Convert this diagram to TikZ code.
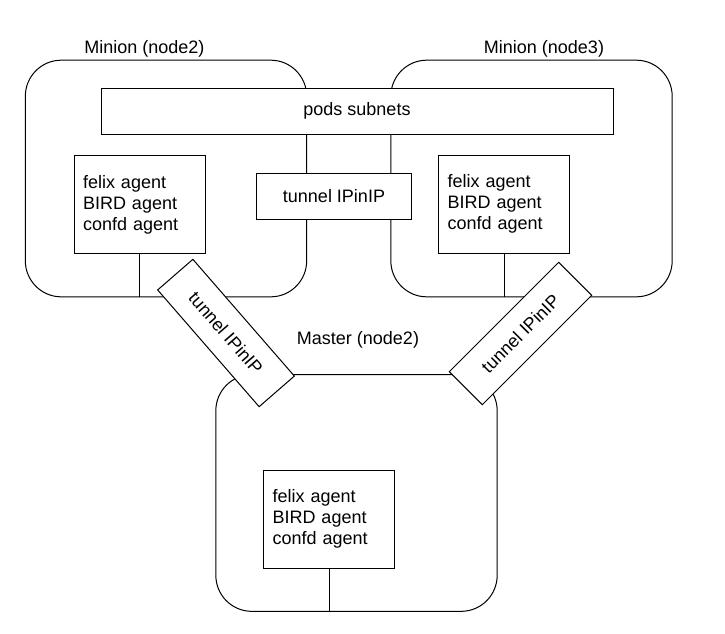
\documentclass[tikz,border=0pt]{standalone}
\usepackage{fontspec}
\setmainfont{Liberation Sans}
\begin{document}
\begin{tikzpicture}[x=0.75pt,y=-0.75pt,line width=0.75pt,
    font=\fontsize{13.5}{15.75}\selectfont,
    host_node/.style={draw,rounded corners=27pt,minimum width=211pt,minimum height=177.5pt,inner sep=0pt},
    agent_node/.style={draw,fill=white,minimum width=98.25pt,minimum height=73.5pt,text width=84.75pt,inner xsep=6.75pt,align=left},
    bar_node/.style={draw,fill=white,minimum width=384pt,minimum height=34.5pt,inner sep=0pt},
    tunnel_node/.style={draw,fill=white,minimum width=116pt,minimum height=35pt,inner sep=0pt},
    title_node/.style={anchor=base,inner sep=0pt}]

    \useasboundingbox (0,0) rectangle (725,633);

    \node[host_node] (minion2) at (166,178.5) {};
    \node[host_node] (minion3) at (531.5,178.5) {};
    \node[host_node] (master) at (356.5,493) {};

    \node[title_node] (minion2_title) at (144.5,53) {Minion (node2)};
    \node[title_node] (minion3_title) at (544,53) {Minion (node3)};
    \node[title_node] (master_title) at (358,344) {Master (node2)};

    \node[bar_node] (pods) at (357,111) {pods subnets};
    \node[tunnel_node] (tunnel23) at (334,196.5) {tunnel IPinIP};
    \node[tunnel_node,rotate=-49] (tunnel2m) at (226,333) {tunnel IPinIP};
    \node[tunnel_node,rotate=45] (tunnel3m) at (520.5,333.5) {tunnel IPinIP};

    \node[agent_node] (agent2) at (139.5,204.5) {felix agent\\BIRD agent\\confd agent};
    \node[agent_node] (agent3) at (504,204) {felix agent\\BIRD agent\\confd agent};
    \node[agent_node] (agentm) at (329,519) {felix agent\\BIRD agent\\confd agent};

    \draw (agent2) -- (agent2 |- minion2.south);
    \draw (agent3) -- (agent3 |- minion3.south);
    \draw (agentm) -- (agentm |- master.south);
\end{tikzpicture}
\end{document}
